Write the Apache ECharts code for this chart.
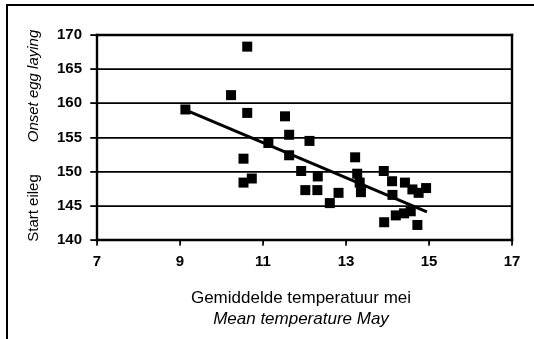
<!DOCTYPE html>
<html>
<head>
<meta charset="utf-8">
<style>
  html, body { margin: 0; padding: 0; background: #fff; }
  #chart { width: 534px; height: 339px; }
</style>
<script src="https://cdn.jsdelivr.net/npm/echarts@6/dist/echarts.min.js"></script>
</head>
<body>
<div id="chart"></div>
<script>
// Mean May temperature (°C) per year
const mayTemp = [
  9.13, 10.23, 10.62, 10.62, 10.53, 10.53, 10.73, 11.13, 11.53, 11.63,
  11.63, 11.92, 12.02, 12.12, 12.32, 12.31, 12.61, 12.82, 13.22, 13.27,
  13.33, 13.36, 13.91, 14.11, 14.12, 14.42, 14.60, 14.75, 14.93, 13.92,
  14.20, 14.40, 14.56, 14.72
];
// Onset of egg laying (day of year) per year
const layStart = [
  159.1, 161.2, 168.3, 158.6, 151.9, 148.4, 149.0, 154.2, 158.1, 155.4,
  152.4, 150.1, 147.3, 154.5, 149.3, 147.3, 145.4, 146.9, 152.1, 149.7,
  148.4, 147.0, 150.1, 148.6, 146.6, 148.4, 147.4, 146.9, 147.6, 142.6,
  143.6, 143.9, 144.2, 142.2
];
// Linear trend line end points
const trendTemp = [9.1, 14.95];
const trendStart = [159.1, 144.1];

// Tick values of both axes
const xTickValues = [7, 9, 11, 13, 15, 17];
const yTickValues = [140, 145, 150, 155, 160, 165, 170];

// Axis titles (Dutch / English)
const xTitleNl = 'Gemiddelde temperatuur mei';
const xTitleEn = 'Mean temperature May';
const yTitleNl = 'Start eileg';
const yTitleEn = 'Onset egg laying';

const FONT = '"Liberation Sans", Arial, sans-serif';
const xMin = xTickValues[0], xMax = xTickValues[xTickValues.length - 1];
const yMin = yTickValues[0], yMax = yTickValues[yTickValues.length - 1];

const chart = echarts.init(document.getElementById('chart'));

chart.setOption({
  backgroundColor: '#fff',
  grid: {
    left: 97, top: 35, right: 22, bottom: 99,
    show: true, borderColor: '#000', borderWidth: 2
  },
  xAxis: {
    type: 'value',
    min: xMin, max: xMax, interval: xTickValues[1] - xTickValues[0],
    axisLine: { show: true, lineStyle: { color: '#000', width: 2 } },
    axisTick: { show: true, length: 4, lineStyle: { color: '#000', width: 1 } },
    axisLabel: { color: '#000', fontFamily: FONT, fontWeight: 'bold', fontSize: 15, margin: 14 },
    splitLine: { show: false }
  },
  yAxis: {
    type: 'value',
    min: yMin, max: yMax, interval: yTickValues[1] - yTickValues[0],
    axisLine: { show: true, lineStyle: { color: '#000', width: 2 } },
    axisTick: { show: true, length: 6, lineStyle: { color: '#000', width: 1 } },
    axisLabel: { color: '#000', fontFamily: FONT, fontWeight: 'bold', fontSize: 15, margin: 15 },
    splitLine: { show: true, lineStyle: { color: '#000', width: 1, type: 'solid' } }
  },
  series: [
    {
      type: 'line',
      data: trendTemp.map((t, i) => [t, trendStart[i]]),
      symbol: 'none',
      lineStyle: { color: '#000', width: 3 },
      animation: false,
      z: 2
    },
    {
      type: 'scatter',
      data: mayTemp.map((t, i) => [t, layStart[i]]),
      symbol: 'rect',
      symbolSize: 10,
      itemStyle: { color: '#000', opacity: 1 },
      animation: false,
      z: 3
    }
  ]
});

// Plot frame, horizontal gridlines and tick marks, placed through the chart's own scales
function buildFrame() {
  const toPx = (x, y) => chart.convertToPixel({ gridIndex: 0 }, [x, y]);
  const [pL, pT] = toPx(xMin, yMax);
  const [pR, pB] = toPx(xMax, yMin);

  const seg = (x1, y1, x2, y2, w, z) => ({
    type: 'line', silent: true, z: z,
    shape: { x1: x1, y1: y1, x2: x2, y2: y2 },
    style: { stroke: '#000', lineWidth: w, lineCap: 'square' }
  });
  const label = (text, x, y, size, italic, rotation) => ({
    type: 'text', x: x, y: y, rotation: rotation || 0, silent: true, z: 100,
    style: {
      text: text, fill: '#000',
      font: (italic ? 'italic ' : '') + size + 'px ' + FONT,
      align: 'center', verticalAlign: 'middle'
    }
  });

  const decor = [
    // outer frame: top and left edges of the figure box
    seg(7, 5, 534, 5, 2, 100),
    seg(7, 5, 7, 339, 2, 100)
  ];
  yTickValues.forEach(v => {
    const y = Math.round(toPx(xMin, v)[1]);
    if (v !== yMin && v !== yMax) decor.push(seg(pL, y, pR, y, 1.6, 1));
    decor.push(seg(pL - 6, y, pL, y, 1.6, 1));
  });
  xTickValues.forEach(v => {
    const x = Math.round(toPx(v, yMin)[0]);
    decor.push(seg(x, pB, x, pB + 5, 1.6, 1));
  });
  // plot box, drawn as four separate edges
  decor.push(
    seg(pL, pT, pR, pT, 2.4, 1),
    seg(pR, pT, pR, pB, 2.4, 1),
    seg(pL, pB, pR, pB, 2.4, 1),
    seg(pL, pT, pL, pB, 2.4, 1)
  );
  decor.push(
    label(xTitleNl, 301, 298, 17, false),
    label(xTitleEn, 301, 319, 17, true),
    label(yTitleNl, 34, 208, 15, false, Math.PI / 2),
    label(yTitleEn, 34, 86, 15, true, Math.PI / 2)
  );
  return decor;
}

chart.setOption({ graphic: buildFrame() });
</script>
</body>
</html>
